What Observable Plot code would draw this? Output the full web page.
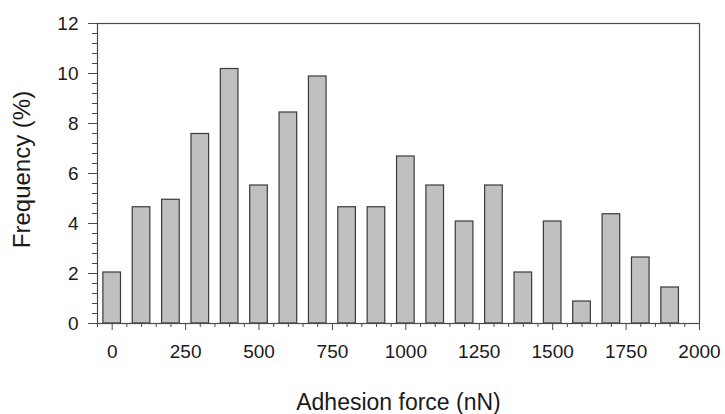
<!DOCTYPE html>
<html>
<head>
<meta charset="utf-8">
<script src="https://cdn.jsdelivr.net/npm/d3@7"></script>
<script src="https://cdn.jsdelivr.net/npm/@observablehq/plot@0.6"></script>
<style>
  html, body { margin: 0; padding: 0; background: #fff; }
  #chart { width: 725px; height: 414px; }
</style>
</head>
<body>
<div id="chart"></div>
<script>
const binCenters = [0, 100, 200, 300, 400, 500, 600, 700, 800, 900, 1000, 1100, 1200, 1300, 1400, 1500, 1600, 1700, 1800, 1900];
const frequency = [2.04, 4.65, 4.95, 7.58, 10.18, 5.52, 8.44, 9.88, 4.65, 4.65, 6.68, 5.52, 4.08, 5.52, 2.04, 4.08, 0.88, 4.37, 2.64, 1.44];
const xTickLabels = [0, 250, 500, 750, 1000, 1250, 1500, 1750, 2000];
const yTickLabels = [0, 2, 4, 6, 8, 10, 12];
const xLabel = "Adhesion force (nN)";
const yLabel = "Frequency (%)";

const barHalfWidth = 30;
const data = binCenters.map((c, i) => ({c, f: frequency[i]}));
const xMinor = d3.range(-50, 2001, 50).filter(v => v % 250 !== 0);
const yMinor = d3.range(0, 31).map(i => +(i * 0.4).toFixed(2)).filter(v => Math.abs(v / 2 - Math.round(v / 2)) > 1e-6);

const axisColor = "#4a4a4a";
const textColor = "#1a1a1a";

const chart = Plot.plot({
  width: 725,
  height: 414,
  marginLeft: 97,
  marginRight: 26,
  marginTop: 23,
  marginBottom: 91,
  style: {fontFamily: "Liberation Sans, Arial, sans-serif", background: "#fff", color: textColor},
  x: {domain: [-50, 2000]},
  y: {domain: [0, 12]},
  marks: [
    Plot.rectY(data, {
      x1: d => d.c - barHalfWidth,
      x2: d => d.c + barHalfWidth,
      y: "f",
      fill: "#c0c0c0",
      stroke: "#3a3a3a",
      strokeWidth: 1.2
    }),
    Plot.frame({stroke: axisColor, strokeWidth: 1.2}),
    Plot.axisX({ticks: xMinor, tickSize: 4, text: null, stroke: axisColor, label: null}),
    Plot.axisX({ticks: xTickLabels, tickSize: 7, tickPadding: 14, stroke: axisColor, fill: textColor, fontSize: 19, label: null, tickFormat: d => String(d)}),
    Plot.axisY({ticks: yMinor, tickSize: 5, text: null, stroke: axisColor, label: null}),
    Plot.axisY({ticks: yTickLabels, tickSize: 9, tickPadding: 10, stroke: axisColor, fill: textColor, fontSize: 19, label: null, tickFormat: d => String(d)}),
    Plot.text([xLabel], {frameAnchor: "bottom", dy: 86, fontSize: 23, fill: textColor, text: d => d, style: "letter-spacing:0.6px"}),
    Plot.text([yLabel], {frameAnchor: "left", textAnchor: "middle", lineAnchor: "top", dx: -85, dy: -4, rotate: -90, fontSize: 24, fill: textColor, text: d => d})
  ]
});
document.getElementById("chart").appendChild(chart);
</script>
</body>
</html>
